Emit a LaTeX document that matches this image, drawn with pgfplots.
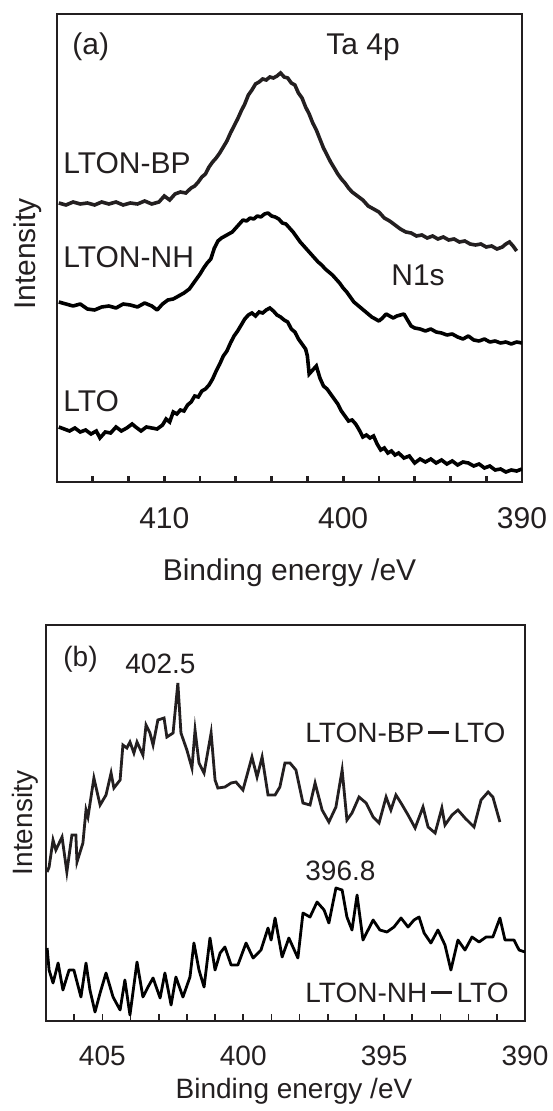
\documentclass[border=0pt]{standalone}
\usepackage{pgfplots}
\pgfplotsset{compat=1.18}
\usepackage{fontspec}
\setmainfont{Liberation Sans}
\definecolor{ink}{HTML}{231F20}

\pgfplotsset{
  xps/.style={scale only axis, x dir=reverse, ytick=\empty, tick align=inside,
    xtick pos=bottom, /pgf/number format/assume math mode=true,
    tick style={ink}, xticklabel style={text=ink, anchor=north},
    cycle list={{ink, line join=round, no markers}}},
}

\begin{document}
\begin{tikzpicture}
% panel (a)
\begin{axis}[xps, at={(28.5pt,-241pt)}, anchor=south west,
  width=232.5pt, height=234pt, xmin=390, xmax=416, ymin=0, ymax=468,
  xtick={390,400,410}, minor xtick={392,394,...,414},
  major tick length=3pt, minor tick length=3pt,
  axis line style={ink, line width=1.4pt}, tick style={line width=1.4pt},
  xticklabel style={font=\fontsize{15}{18}\selectfont, yshift=-9pt},
  every axis plot/.append style={line width=1.8pt}]
\addplot coordinates {(415.9,279) (415.5,277) (415.1,280) (414.7,278) (414.3,279) (413.9,277) (413.5,280) (413.1,278) (412.7,280) (412.3,277) (411.9,279) (411.5,278) (411.1,281) (410.7,278) (410.3,280) (410.0,286) (409.7,282) (409.4,288) (409.1,290) (408.8,289) (408.5,294) (408.3,296) (408.1,300) (407.9,305) (407.7,308) (407.5,315) (407.3,320) (407.1,324) (406.9,329) (406.7,335) (406.5,341) (406.3,349) (406.1,356) (405.9,363) (405.7,371) (405.5,378) (405.3,387) (405.1,392) (404.9,398) (404.7,400) (404.5,403) (404.3,402) (404.1,405) (403.9,404) (403.7,406) (403.5,409) (403.3,405) (403.1,404) (402.9,399) (402.7,397) (402.5,389) (402.3,384) (402.1,375) (401.9,368) (401.7,359) (401.5,352) (401.3,343) (401.1,334) (400.9,327) (400.7,320) (400.5,314) (400.3,308) (400.1,303) (399.9,299) (399.7,294) (399.5,290) (399.2,286) (398.9,282) (398.6,276) (398.3,273) (398.0,270) (397.7,264) (397.4,261) (397.1,257) (396.8,253) (396.5,250) (396.2,249) (395.9,246) (395.6,247) (395.3,244) (395.0,246) (394.7,243) (394.4,245) (394.1,242) (393.8,243) (393.5,240) (393.2,241) (392.9,238) (392.6,237) (392.3,238) (392.0,235) (391.7,236) (391.4,233) (391.1,235) (390.9,238) (390.7,240) (390.5,236) (390.3,231)};
\addplot coordinates {(415.9,180) (415.5,178) (415.1,176) (414.7,178) (414.3,173) (413.9,172) (413.5,175) (413.1,176) (412.7,174) (412.3,178) (411.9,177) (411.5,175) (411.1,179) (410.7,176) (410.4,172) (410.1,178) (409.8,182) (409.5,183) (409.2,186) (408.9,189) (408.6,193) (408.4,198) (408.2,203) (408.0,208) (407.8,214) (407.6,219) (407.4,223) (407.2,234) (407.0,241) (406.8,244) (406.6,246) (406.4,248) (406.2,250) (406.0,254) (405.8,258) (405.6,262) (405.4,261) (405.2,264) (405.0,263) (404.8,266) (404.6,265) (404.4,268) (404.2,269) (404.0,266) (403.8,265) (403.6,263) (403.4,259) (403.2,258) (403.0,254) (402.8,250) (402.6,245) (402.4,240) (402.2,236) (402.0,232) (401.8,228) (401.6,224) (401.4,220) (401.2,217) (401.0,213) (400.8,210) (400.6,207) (400.4,203) (400.2,199) (400.0,194) (399.8,190) (399.6,185) (399.4,180) (399.2,177) (399.0,174) (398.8,171) (398.6,168) (398.4,165) (398.2,163) (398.0,161) (397.8,164) (397.6,168) (397.4,166) (397.2,164) (397.0,166) (396.8,167) (396.6,168) (396.4,162) (396.2,156) (396.0,154) (395.7,153) (395.4,151) (395.1,153) (394.8,150) (394.5,149) (394.2,147) (393.9,148) (393.6,145) (393.3,143) (393.0,146) (392.7,142) (392.4,141) (392.1,143) (391.8,140) (391.5,141) (391.2,139) (390.9,140) (390.6,138) (390.3,140) (390.0,139)};
\addplot coordinates {(415.9,55) (415.6,53) (415.3,51) (415.0,54) (414.7,50) (414.4,52) (414.1,48) (413.8,51) (413.6,44) (413.3,50) (413.0,49) (412.7,55) (412.4,51) (412.1,54) (411.8,58) (411.6,55) (411.3,51) (411.0,55) (410.7,54) (410.4,53) (410.1,57) (409.9,63) (409.7,60) (409.5,70) (409.3,68) (409.1,72) (408.9,71) (408.7,77) (408.5,80) (408.3,86) (408.1,85) (407.9,91) (407.7,93) (407.5,97) (407.3,103) (407.1,111) (406.9,118) (406.7,126) (406.5,131) (406.3,139) (406.1,146) (405.9,151) (405.7,157) (405.5,163) (405.3,167) (405.1,169) (404.9,166) (404.7,170) (404.5,169) (404.3,172) (404.1,174) (403.9,171) (403.7,167) (403.5,165) (403.3,162) (403.1,160) (402.9,153) (402.7,150) (402.5,143) (402.3,138) (402.1,133) (402.0,126) (401.9,108) (401.7,112) (401.5,116) (401.3,104) (401.1,96) (400.9,93) (400.7,88) (400.5,83) (400.3,78) (400.1,71) (399.9,66) (399.7,61) (399.5,62) (399.3,58) (399.1,52) (398.9,45) (398.7,47) (398.5,44) (398.3,46) (398.1,38) (397.9,32) (397.7,34) (397.5,29) (397.3,31) (397.1,27) (396.9,29) (396.6,24) (396.3,26) (396.0,19) (395.7,23) (395.4,20) (395.1,23) (394.8,19) (394.5,22) (394.2,18) (393.9,21) (393.6,17) (393.3,20) (393.0,19) (392.7,16) (392.4,18) (392.1,14) (391.8,16) (391.5,12) (391.2,13) (390.9,10) (390.6,12) (390.3,11) (390.0,13)};
\end{axis}
% panel (b)
\begin{axis}[xps, at={(23pt,-510.5pt)}, anchor=south west,
  width=239.5pt, height=198pt, xmin=390, xmax=407, ymin=0, ymax=396,
  xtick={390,395,400,405}, minor xtick={391,392,...,406},
  major tick length=3.5pt, minor tick length=3.5pt,
  axis line style={ink, line width=0.8pt}, tick style={line width=0.8pt},
  xticklabel style={font=\fontsize{14}{17}\selectfont, yshift=-8.8pt},
  every axis plot/.append style={line width=1.4pt}]
\addplot coordinates {(406.96,149) (406.89,154) (406.75,181) (406.65,171) (406.43,184) (406.26,149) (406.08,186) (405.94,186) (405.90,159) (405.69,178) (405.58,211) (405.51,204) (405.30,243) (405.08,216) (404.87,226) (404.69,248) (404.59,233) (404.37,241) (404.27,276) (404.13,273) (404.02,279) (403.88,268) (403.77,279) (403.56,266) (403.45,296) (403.31,288) (403.20,276) (403.03,301) (402.81,303) (402.71,284) (402.49,288) (402.32,338) (402.21,288) (402.00,271) (401.82,253) (401.71,291) (401.57,258) (401.39,248) (401.14,288) (401.00,241) (400.90,233) (400.65,234) (400.43,238) (400.26,239) (400.01,231) (399.69,264) (399.51,244) (399.33,264) (399.12,226) (398.87,226) (398.70,234) (398.52,258) (398.34,258) (398.13,251) (397.88,218) (397.63,216) (397.45,238) (397.20,211) (396.96,199) (396.71,214) (396.49,251) (396.32,201) (396.14,208) (395.89,224) (395.64,218) (395.39,204) (395.18,198) (394.93,224) (394.76,211) (394.58,226) (394.40,218) (394.15,206) (393.90,193) (393.62,214) (393.44,194) (393.19,188) (392.95,213) (392.84,196) (392.59,206) (392.38,211) (392.13,203) (391.81,194) (391.56,221) (391.31,229) (391.14,224) (390.89,199)};
\addplot coordinates {(406.96,73) (406.89,51) (406.75,38) (406.57,58) (406.40,31) (406.18,51) (406.01,51) (405.76,24) (405.58,58) (405.44,31) (405.26,9) (405.08,28) (404.87,48) (404.62,24) (404.37,11) (404.20,41) (404.02,6) (403.77,59) (403.56,24) (403.38,34) (403.20,43) (402.95,23) (402.78,48) (402.56,16) (402.39,44) (402.14,24) (401.89,44) (401.75,78) (401.57,51) (401.39,34) (401.18,83) (401.00,51) (400.82,68) (400.65,74) (400.43,56) (400.19,56) (399.90,78) (399.65,63) (399.37,71) (399.12,93) (399.01,81) (398.87,103) (398.62,64) (398.38,83) (398.06,63) (397.88,108) (397.63,104) (397.38,119) (397.13,111) (396.96,98) (396.71,133) (396.49,131) (396.32,104) (396.14,91) (395.96,126) (395.75,81) (395.39,101) (395.15,91) (394.90,89) (394.65,94) (394.40,103) (394.15,94) (393.94,101) (393.76,104) (393.58,88) (393.34,78) (393.09,91) (392.84,76) (392.63,51) (392.38,81) (392.13,71) (391.88,84) (391.63,79) (391.38,84) (391.14,84) (390.89,103) (390.71,81) (390.39,81) (390.21,71) (390.00,69)};
\end{axis}
% labels, positions in image pixels
\begin{scope}[x=0.5pt, y=-0.5pt, every node/.style={text=ink, inner sep=0pt}]
  \begin{scope}[font=\fontsize{15}{18}\selectfont]
    \node[anchor=base west] at (72,55) {(a)};
    \node[anchor=base west] at (326,55) {Ta 4p};
    \node[anchor=base west] at (63,174) {LTON-BP};
    \node[anchor=base west] at (63,268) {LTON-NH};
    \node[anchor=base west] at (391,286) {N1s};
    \node[anchor=base west] at (63,412) {LTO};
    \node at (289.5,572.5) {Binding energy /eV};
    \node[rotate=90] at (28,254) {Intensity};
  \end{scope}
  \begin{scope}[font=\fontsize{14}{17}\selectfont]
    \node[anchor=base west] at (63,666) {(b)};
    \node[anchor=base west] at (125,673) {402.5};
    \node[anchor=base west] at (305,742) {LTON-BP\hspace{0.15em}\rule[0.3em]{0.75em}{0.08em}\hspace{0.15em}LTO};
    \node[anchor=base west] at (305,880) {396.8};
    \node[anchor=base west] at (305,1002) {LTON-NH\hspace{0.15em}\rule[0.3em]{0.75em}{0.08em}\hspace{0.15em}LTO};
    \node at (294,1091) {Binding energy /eV};
    \node[rotate=90] at (25,823) {Intensity};
  \end{scope}
\end{scope}
\pgfresetboundingbox
\path[use as bounding box] (0pt,0pt) rectangle (276pt,-555.5pt);
\end{tikzpicture}
\end{document}
